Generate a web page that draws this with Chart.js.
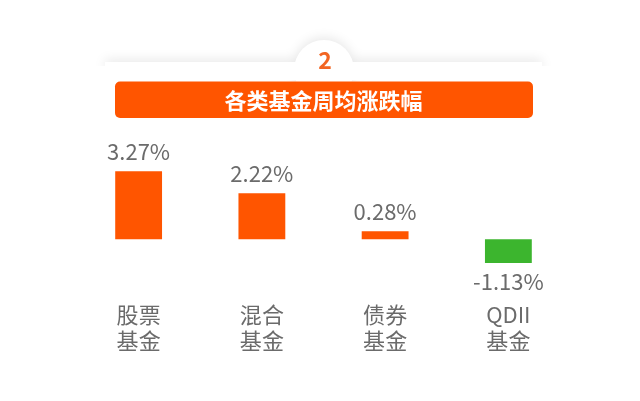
<!DOCTYPE html>
<html><head><meta charset="utf-8">
<script src="https://cdn.jsdelivr.net/npm/chart.js@4.4.0/dist/chart.umd.min.js"></script>
<style>html,body{margin:0;padding:0;background:#fff;}#wrap{width:640px;height:401px;}</style>
</head><body><div id="wrap"><canvas id="c" width="640" height="401"></canvas></div>
<script>
const sectionNumber = '2';
const chartTitle = '各类基金周均涨跌幅';
const categories = [['股票','基金'],['混合','基金'],['债券','基金'],['QDII','基金']];
const values = [3.27, 2.22, 0.28, -1.13];

const ORANGE = '#FF5500';
const GREEN = '#3CB52E';
const GRAY = '#6b6b6b';
const FONT = '"Noto Sans CJK SC","Noto Sans",sans-serif';

const headerPlugin = {
  id: 'header',
  beforeDraw(chart) {
    const ctx = chart.ctx;
    ctx.save();
    ctx.save();
    ctx.shadowColor = 'rgba(0,0,0,0.10)';
    ctx.shadowBlur = 12;
    ctx.shadowOffsetY = -2;
    ctx.fillStyle = '#ffffff';
    ctx.beginPath();
    ctx.rect(105, 62, 437, 10);
    ctx.moveTo(324 + 30, 70);
    ctx.arc(324, 70, 30, 0, Math.PI * 2);
    ctx.fill();
    ctx.restore();
    ctx.fillStyle = '#ffffff';
    ctx.fillRect(95, 66, 460, 14);
    ctx.fillStyle = '#F26522';
    ctx.font = 'bold 23px ' + FONT;
    ctx.textAlign = 'center';
    ctx.textBaseline = 'middle';
    ctx.fillText(sectionNumber, 325, 60);
    ctx.fillStyle = ORANGE;
    ctx.beginPath();
    ctx.roundRect(115, 81.5, 418, 36.5, 5);
    ctx.fill();
    ctx.restore();
  }
};

const valueLabels = {
  id: 'valueLabels',
  afterDatasetsDraw(chart) {
    const ctx = chart.ctx;
    const meta = chart.getDatasetMeta(0);
    ctx.save();
    ctx.fillStyle = GRAY;
    ctx.font = '22px ' + FONT;
    ctx.textAlign = 'center';
    ctx.textBaseline = 'alphabetic';
    meta.data.forEach((bar, i) => {
      const v = values[i];
      const txt = v.toFixed(2) + '%';
      if (v >= 0) {
        ctx.fillText(txt, bar.x, Math.min(bar.y, bar.base) - 11);
      } else {
        ctx.fillText(txt, bar.x, Math.max(bar.y, bar.base) + 27);
      }
    });
    ctx.restore();
  }
};

new Chart(document.getElementById('c'), {
  type: 'bar',
  data: {
    labels: categories,
    datasets: [{
      data: values,
      backgroundColor: values.map(v => v >= 0 ? ORANGE : GREEN),
      borderWidth: 0,
      barPercentage: 0.38,
      categoryPercentage: 1,
      minBarLength: 8
    }]
  },
  options: {
    responsive: false,
    animation: false,
    events: [],
    layout: { padding: { left: 77, right: 70, top: 0, bottom: 41 } },
    plugins: {
      legend: { display: false },
      tooltip: { enabled: false },
      title: {
        display: true,
        text: chartTitle,
        color: '#ffffff',
        font: { family: FONT, size: 22, weight: 'bold', lineHeight: 1.2 },
        padding: { top: 87, bottom: 20 }
      }
    },
    scales: {
      x: {
        grid: { display: false, drawTicks: false },
        border: { display: false },
        ticks: { color: GRAY, font: { family: FONT, size: 22, lineHeight: 1.16 }, padding: 7, maxRotation: 0, autoSkip: false }
      },
      y: {
        display: false,
        min: -2.67,
        max: 5.09
      }
    }
  },
  plugins: [headerPlugin, valueLabels]
});
</script></body></html>
